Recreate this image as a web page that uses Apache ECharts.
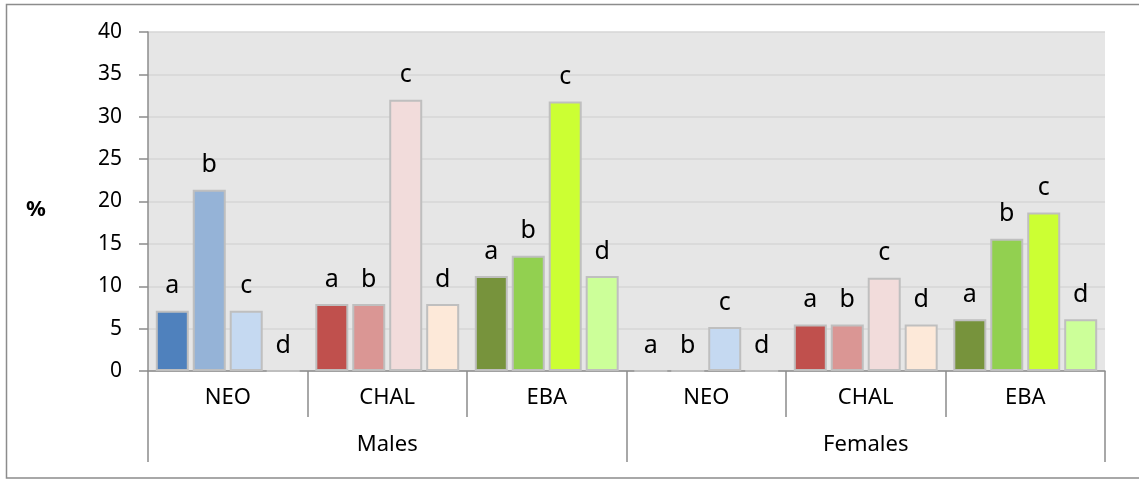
<!DOCTYPE html>
<html>
<head>
<meta charset="utf-8">
<script src="https://cdn.jsdelivr.net/npm/echarts@6/dist/echarts.min.js"></script>
<style>
html,body{margin:0;padding:0;background:#fff;}
#chart{width:1139px;height:480px;}
</style>
</head>
<body>
<div id="chart"></div>
<script>
// ---- data ----
var categories = ['NEO', 'CHAL', 'EBA', 'NEO', 'CHAL', 'EBA'];
var groups = ['Males', 'Females'];
var seriesNames = ['a', 'b', 'c', 'd'];
var valuesA = [7.1, 7.9, 11.2, 0, 5.5, 6.1];
var valuesB = [21.4, 7.9, 13.6, 0, 5.5, 15.6];
var valuesC = [7.1, 32.0, 31.8, 5.2, 11.0, 18.7];
var valuesD = [0, 7.9, 11.2, 0, 5.5, 6.1];
var yTicks = [0, 5, 10, 15, 20, 25, 30, 35, 40];

// colours per period (a, b, c, d)
var periodColors = {
  NEO:  ['#4F81BD', '#95B3D7', '#C5D9F1', '#DCE6F2'],
  CHAL: ['#C0504D', '#DA9694', '#F2DCDB', '#FDE9D9'],
  EBA:  ['#77933C', '#92D050', '#CCFF33', '#CCFF99']
};

var allValues = [valuesA, valuesB, valuesC, valuesD];
var FONT = '"Noto Sans", "Open Sans", sans-serif';

var series = seriesNames.map(function (name, si) {
  return {
    name: name,
    type: 'bar',
    barWidth: 33,
    barGap: '12%',
    data: allValues[si].map(function (v, ci) {
      return {
        value: v,
        itemStyle: { color: periodColors[categories[ci]][si] }
      };
    }),
    itemStyle: { borderColor: '#BFBFBF', borderWidth: 2 },
    label: {
      show: true,
      position: 'top',
      distance: 12,
      formatter: name,
      color: '#000',
      fontFamily: FONT,
      fontSize: 25
    }
  };
});

var chart = echarts.init(document.getElementById('chart'), null, { renderer: 'canvas' });
chart.setOption({
  animation: false,
  backgroundColor: '#fff',
  grid: {
    left: 148, right: 34, top: 32, bottom: 109,
    show: true, backgroundColor: '#E6E6E6', borderWidth: 0
  },
  xAxis: [
    {
      type: 'category',
      data: categories,
      position: 'bottom',
      axisLine: { show: true, lineStyle: { color: '#8C8C8C', width: 1.5 } },
      axisTick: { show: true, length: 46, interval: 0, lineStyle: { color: '#8C8C8C', width: 1.5 } },
      axisLabel: { interval: 0, margin: 16, color: '#000', fontFamily: FONT, fontSize: 22 },
      splitLine: { show: false }
    },
    {
      type: 'category',
      data: groups,
      position: 'bottom',
      axisLine: { show: false },
      axisTick: { show: true, length: 91, interval: 0, lineStyle: { color: '#8C8C8C', width: 1.5 } },
      axisLabel: { interval: 0, margin: 63, color: '#000', fontFamily: FONT, fontSize: 22 },
      splitLine: { show: false }
    }
  ],
  yAxis: {
    type: 'value',
    min: yTicks[0],
    max: yTicks[yTicks.length - 1],
    interval: yTicks[1] - yTicks[0],
    axisLine: { show: true, lineStyle: { color: '#8C8C8C', width: 1.5 } },
    axisTick: { show: true, length: 9, lineStyle: { color: '#8C8C8C', width: 1.5 } },
    axisLabel: { margin: 26, color: '#000', fontFamily: FONT, fontSize: 21 },
    splitLine: { show: true, lineStyle: { color: '#D6D6D6', width: 1.5 } }
  },
  graphic: [
    {
      type: 'rect',
      shape: { x: 6.5, y: 4.5, width: 1145, height: 473.5 },
      style: { fill: null, stroke: '#8C8C8C', lineWidth: 1.5 },
      silent: true
    },
    {
      type: 'text',
      left: 26, top: 199,
      style: { text: '%', fill: '#000', font: 'bold 22px ' + FONT }
    }
  ],
  series: series
});
</script>
</body>
</html>
